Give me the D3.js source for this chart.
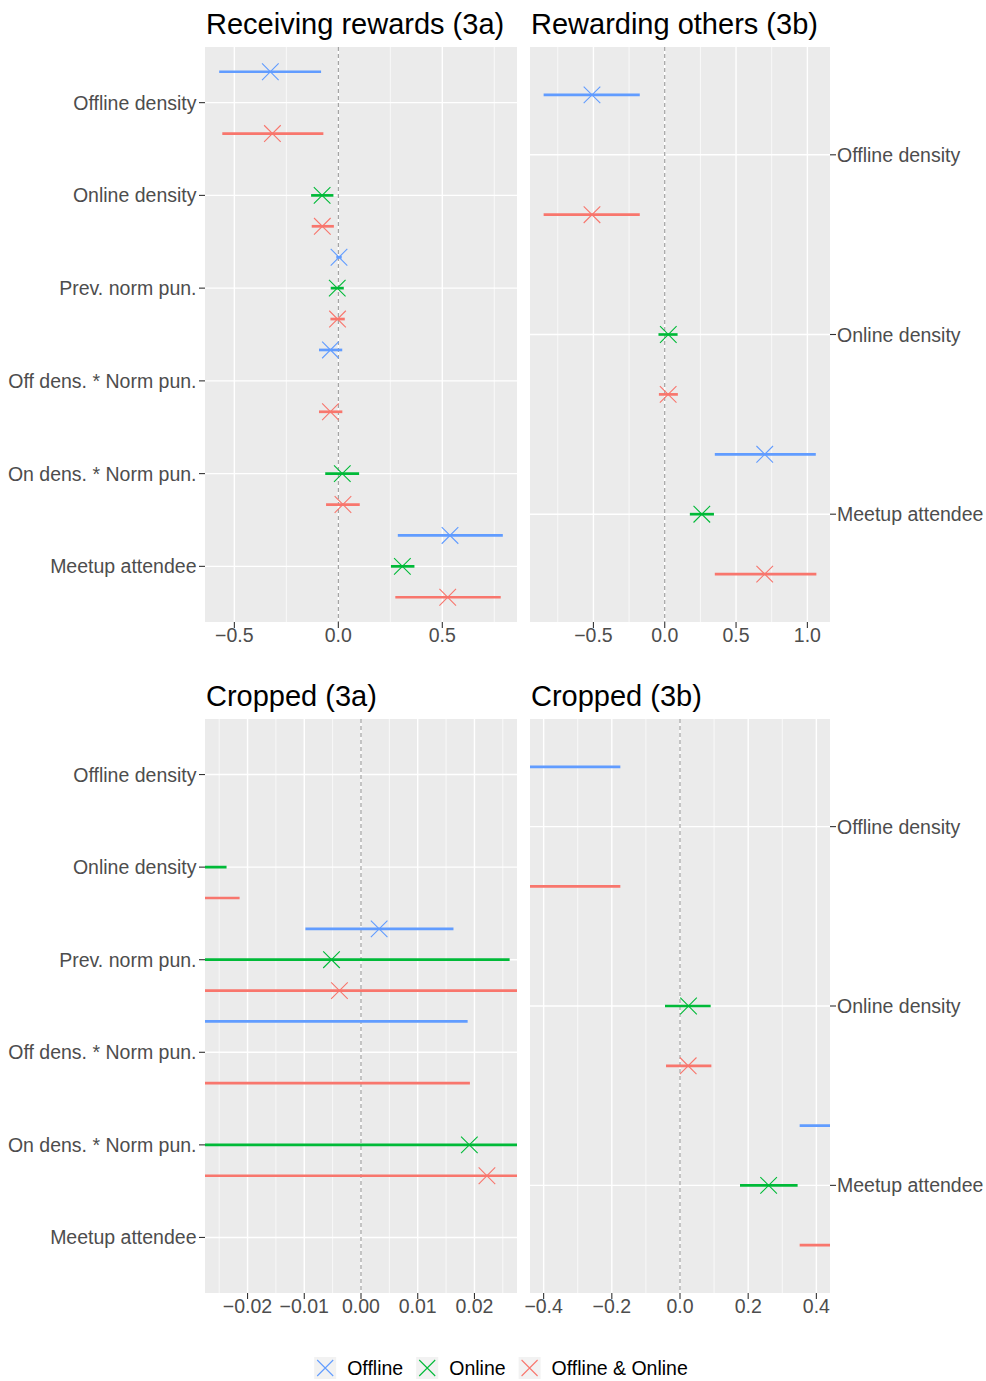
<!DOCTYPE html>
<html>
<head>
<meta charset="utf-8">
<script src="https://cdn.jsdelivr.net/npm/d3@7"></script>
<style>
  html, body { margin: 0; padding: 0; background: #ffffff; }
  svg { display: block; font-family: "Liberation Sans", Arial, Helvetica, sans-serif; }
</style>
</head>
<body>
<svg id="chart" width="986" height="1381"></svg>
<script>
// ---- Data -------------------------------------------------------------
const seriesNames = ["Offline", "Online", "Offline & Online"];
const seriesColors = ["#619CFF", "#00BA38", "#F8766D"];

// Model 3a: receiving rewards
const categories3a = ["Offline density", "Online density", "Prev. norm pun.",
                      "Off dens. * Norm pun.", "On dens. * Norm pun.", "Meetup attendee"];
const est3aOffline = [-0.327, null, 0.0032, -0.038, null, 0.537];
const lo3aOffline  = [-0.573, null, -0.0098, -0.093, null, 0.286];
const hi3aOffline  = [-0.083, null, 0.0163, 0.0188, null, 0.791];
const est3aOnline  = [null, -0.078, -0.0052, null, 0.0191, 0.308];
const lo3aOnline   = [null, -0.131, -0.0366, null, -0.063, 0.253];
const hi3aOnline   = [null, -0.0237, 0.0262, null, 0.100, 0.366];
const est3aBoth    = [-0.317, -0.077, -0.0038, -0.038, 0.0222, 0.526];
const lo3aBoth     = [-0.558, -0.128, -0.038, -0.093, -0.059, 0.274];
const hi3aBoth     = [-0.072, -0.0214, 0.031, 0.0192, 0.103, 0.781];

// Model 3b: rewarding others
const categories3b = ["Offline density", "Online density", "Meetup attendee"];
const est3bOffline = [-0.510, null, 0.701];
const lo3bOffline  = [-0.849, null, 0.351];
const hi3bOffline  = [-0.175, null, 1.059];
const est3bOnline  = [null, 0.025, 0.260];
const lo3bOnline   = [null, -0.044, 0.176];
const hi3bOnline   = [null, 0.090, 0.345];
const est3bBoth    = [-0.510, 0.024, 0.701];
const lo3bBoth     = [-0.849, -0.041, 0.351];
const hi3bBoth     = [-0.175, 0.092, 1.063];

// Axis ticks
const ticks3a = [-0.5, 0.0, 0.5];
const ticks3b = [-0.5, 0.0, 0.5, 1.0];
const ticksCrop3a = [-0.02, -0.01, 0.00, 0.01, 0.02];
const ticksCrop3b = [-0.4, -0.2, 0.0, 0.2, 0.4];
const cropLimit3a = 0.025;
const cropLimit3b = 0.4;

// ---- Helpers ----------------------------------------------------------
function rows(cats, est, lo, hi) {
  const out = [];
  [0, 1, 2].forEach(s => {
    cats.forEach((c, i) => {
      if (est[s][i] !== null) out.push({ cat: c, s, est: est[s][i], lo: lo[s][i], hi: hi[s][i] });
    });
  });
  return out;
}
const data3a = rows(categories3a,
  [est3aOffline, est3aOnline, est3aBoth],
  [lo3aOffline, lo3aOnline, lo3aBoth],
  [hi3aOffline, hi3aOnline, hi3aBoth]);
const data3b = rows(categories3b,
  [est3bOffline, est3bOnline, est3bBoth],
  [lo3bOffline, lo3bOnline, lo3bBoth],
  [hi3bOffline, hi3bOnline, hi3bBoth]);

function expanded(lo, hi) {
  const pad = (hi - lo) * 0.05;
  return [lo - pad, hi + pad];
}
function minorBetween(ticks, domain) {
  const step = ticks[1] - ticks[0];
  const out = [];
  for (let v = ticks[0] - step / 2; v <= domain[1]; v += step / 2) {
    if (v >= domain[0] && !ticks.some(t => Math.abs(t - v) < step * 1e-6)) out.push(v);
  }
  return out;
}

const svg = d3.select("#chart");
let clipId = 0;

function drawPanel(opt) {
  const { x0, y0, w, h, cats, data, domain, ticks, decimals, side, title } = opt;
  const g = svg.append("g");
  const x = d3.scaleLinear().domain(domain).range([x0, x0 + w]);
  const y = d3.scalePoint().domain(cats).range([y0, y0 + h]).padding(0.6);
  const dodge = y.step() / 3;

  // title
  g.append("text").attr("x", x0 + 1).attr("y", y0 - 13)
    .attr("font-size", 29).attr("fill", "#000").text(title);

  // background
  g.append("rect").attr("x", x0).attr("y", y0).attr("width", w).attr("height", h)
    .attr("fill", "#EBEBEB");

  // grid
  const minor = minorBetween(ticks, domain);
  g.selectAll(".minor").data(minor).join("line")
    .attr("x1", d => x(d)).attr("x2", d => x(d)).attr("y1", y0).attr("y2", y0 + h)
    .attr("stroke", "#fff").attr("stroke-width", 0.7);
  g.selectAll(".majx").data(ticks).join("line")
    .attr("x1", d => x(d)).attr("x2", d => x(d)).attr("y1", y0).attr("y2", y0 + h)
    .attr("stroke", "#fff").attr("stroke-width", 1.4);
  g.selectAll(".majy").data(cats).join("line")
    .attr("x1", x0).attr("x2", x0 + w).attr("y1", d => y(d)).attr("y2", d => y(d))
    .attr("stroke", "#fff").attr("stroke-width", 1.4);

  // zero reference line
  g.append("line").attr("x1", x(0)).attr("x2", x(0)).attr("y1", y0).attr("y2", y0 + h)
    .attr("stroke", "#999").attr("stroke-width", 1.1).attr("stroke-dasharray", "4,3");

  // marks, clipped to the panel
  const id = "clip" + (clipId++);
  svg.append("clipPath").attr("id", id).append("rect")
    .attr("x", x0).attr("y", y0).attr("width", w).attr("height", h);
  const m = g.append("g").attr("clip-path", `url(#${id})`);
  const yy = d => y(d.cat) + (d.s - 1) * dodge;

  m.selectAll(".ci").data(data).join("line")
    .attr("x1", d => x(d.lo)).attr("x2", d => x(d.hi))
    .attr("y1", yy).attr("y2", yy)
    .attr("stroke", d => seriesColors[d.s]).attr("stroke-width", 2.7);

  const r = 8.3;
  m.selectAll(".pt").data(data).join("path")
    .attr("d", d => {
      const cx = x(d.est), cy = yy(d);
      return `M${cx - r},${cy - r}L${cx + r},${cy + r}M${cx - r},${cy + r}L${cx + r},${cy - r}`;
    })
    .attr("stroke", d => seriesColors[d.s]).attr("stroke-width", 1.1)
    .attr("fill", "none");

  // x axis
  const xa = g.append("g");
  xa.selectAll("line").data(ticks).join("line")
    .attr("x1", d => x(d)).attr("x2", d => x(d)).attr("y1", y0 + h).attr("y2", y0 + h + 6)
    .attr("stroke", "#333").attr("stroke-width", 1.1);
  const fmt = d3.format(`.${decimals}f`);
  xa.selectAll("text").data(ticks).join("text")
    .attr("x", d => x(d)).attr("y", y0 + h + 20)
    .attr("text-anchor", "middle").attr("font-size", 19.5).attr("fill", "#4D4D4D")
    .text(d => fmt(d));

  // y axis
  const ya = g.append("g");
  const tx0 = side === "left" ? x0 - 6 : x0 + w;
  ya.selectAll("line").data(cats).join("line")
    .attr("x1", tx0).attr("x2", tx0 + 6).attr("y1", d => y(d)).attr("y2", d => y(d))
    .attr("stroke", "#333").attr("stroke-width", 1.1);
  ya.selectAll("text").data(cats).join("text")
    .attr("x", side === "left" ? x0 - 8.5 : x0 + w + 7)
    .attr("y", d => y(d)).attr("dy", "0.36em")
    .attr("text-anchor", side === "left" ? "end" : "start")
    .attr("font-size", 19.5).attr("fill", "#4D4D4D")
    .text(d => d);
}

const dom3a = expanded(d3.min(data3a, d => d.lo), d3.max(data3a, d => d.hi));
const dom3b = expanded(d3.min(data3b, d => d.lo), d3.max(data3b, d => d.hi));

drawPanel({ x0: 205, y0: 47, w: 312, h: 575, cats: categories3a, data: data3a,
  domain: dom3a, ticks: ticks3a, decimals: 1, side: "left", title: "Receiving rewards (3a)" });
drawPanel({ x0: 530, y0: 47, w: 300, h: 575, cats: categories3b, data: data3b,
  domain: dom3b, ticks: ticks3b, decimals: 1, side: "right", title: "Rewarding others (3b)" });
drawPanel({ x0: 205, y0: 719, w: 312, h: 574, cats: categories3a, data: data3a,
  domain: expanded(-cropLimit3a, cropLimit3a), ticks: ticksCrop3a, decimals: 2, side: "left", title: "Cropped (3a)" });
drawPanel({ x0: 530, y0: 719, w: 300, h: 574, cats: categories3b, data: data3b,
  domain: expanded(-cropLimit3b, cropLimit3b), ticks: ticksCrop3b, decimals: 1, side: "right", title: "Cropped (3b)" });

// ---- Legend -------------------------------------------------------------
const legend = svg.append("g");
const keySize = 22, keyGap = 11, itemGap = 13, legY = 1357;
let cursor = 0;
const items = seriesNames.map((name, i) => {
  const it = legend.append("g");
  it.append("rect").attr("width", keySize).attr("height", keySize).attr("fill", "#F2F2F2");
  const r = 8;
  const c = keySize / 2;
  it.append("path")
    .attr("d", `M${c - r},${c - r}L${c + r},${c + r}M${c - r},${c + r}L${c + r},${c - r}`)
    .attr("stroke", seriesColors[i]).attr("stroke-width", 1.1).attr("fill", "none");
  const t = it.append("text").attr("x", keySize + keyGap).attr("y", keySize / 2).attr("dy", "0.36em")
    .attr("font-size", 19.5).attr("fill", "#000").text(name);
  const wItem = keySize + keyGap + t.node().getComputedTextLength();
  const pos = cursor;
  cursor += wItem + itemGap;
  return { it, pos };
});
const total = cursor - itemGap;
const start = 501 - total / 2;
items.forEach(({ it, pos }) => it.attr("transform", `translate(${start + pos},${legY})`));
</script>
</body>
</html>
